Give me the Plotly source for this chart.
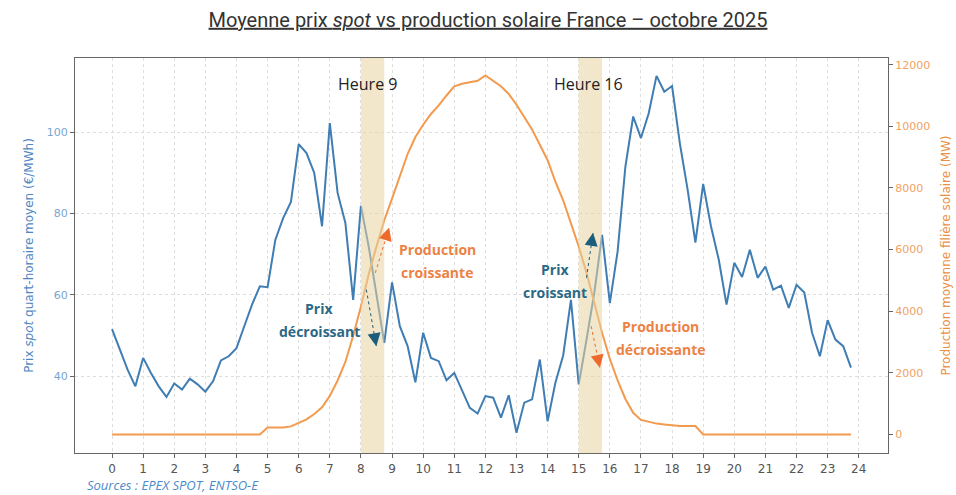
import plotly.graph_objects as go

# ---------------- data ----------------
hours = [i / 4 for i in range(96)]          # quarter-hours 0 .. 23.75
x_ticks = list(range(25))

price = [51.6, 46.6, 41.6, 37.5, 44.5, 40.8, 37.5, 34.9,
         38.2, 36.7, 39.4, 38.0, 36.2, 38.8, 43.9, 44.9,
         46.9, 52.3, 57.6, 62.1, 61.9, 73.6, 78.9, 82.9,
         97.1, 94.9, 90.0, 76.9, 102.3, 85.1, 77.7, 58.8,
         81.9, 71.9, 60.5, 48.2, 63.1, 52.3, 47.4, 38.5,
         50.7, 44.5, 43.7, 39.0, 40.8, 36.3, 32.2, 30.8,
         35.1, 34.7, 29.8, 35.3, 26.1, 33.5, 34.3, 44.1,
         28.9, 38.4, 45.1, 58.8, 38.0, 49.0, 60.5, 74.8,
         58.0, 70.7, 91.6, 103.9, 98.6, 104.7, 113.9, 110.0,
         111.4, 97.3, 85.9, 72.9, 87.3, 76.9, 68.7, 57.6,
         67.9, 64.4, 71.1, 64.2, 67.0, 61.3, 62.3, 56.8,
         62.5, 60.6, 50.7, 44.9, 53.8, 49.0, 47.4, 42.1]

solar = [0] * 20 + [
    220, 220, 220, 260,
    370, 490, 660, 880,
    1250, 1750, 2350, 3200,
    4150, 5200, 6100, 6950,
    7650, 8400, 9100, 9650,
    10050, 10400, 10680, 11000,
    11300, 11380, 11420, 11480,
    11650, 11480, 11300, 11050,
    10700, 10300, 9900, 9400,
    8900, 8200, 7600, 6850,
    6100, 5250, 4250, 3300,
    2450, 1750, 1150, 700,
    470, 400, 350, 320,
    290, 270, 270, 270] + [0] * 20

price_ticks = [40, 60, 80, 100]
solar_ticks = [0, 2000, 4000, 6000, 8000, 10000, 12000]
solar_tick_text = ["0", "2000", "4000", "6000", "8000", "10000", "12000"]

band_start = [8, 15]
band_end = [8.75, 15.75]
band_label = ["Heure 9", "Heure 16"]
band_label_x = [8.215, 15.32]

# annotation texts (one entry per line) : text, hour, price-axis value, kind
note_text = ["Production", "croissante", "Prix", "décroissant",
             "Prix", "croissant", "Production", "décroissante"]
note_x = [10.45, 10.45, 6.662, 6.662, 14.25, 14.25, 17.63, 17.63]
note_y = [71.16, 65.58, 56.65, 51.0, 66.24, 60.66, 52.15, 46.57]
note_kind = ["prod", "prod", "prix", "prix", "prix", "prix", "prod", "prod"]

# trend arrows : tail (hour, price) -> head (hour, price)
arrow_tail_x = [8.463, 8.174, 15.25, 15.40]
arrow_tail_y = [65.43, 61.3, 64.2, 52.3]
arrow_head_x = [8.907, 8.495, 15.46, 15.68]
arrow_head_y = [76.57, 47.38, 75.27, 42.07]
arrow_kind = ["prod", "prix", "prix", "prod"]

# ---------------- style ----------------
BLUE = "#3f7db3"
ORANGE = "#f29a4e"
TXT_PROD = "#ec8245"
TXT_PRIX = "#2b6886"
HEAD_PROD = "#ee6a2c"
HEAD_PRIX = "#1b5d7b"
ANN_FONT = "Open Sans, Lato, sans-serif"

fig = go.Figure()
fig.add_trace(go.Scatter(x=hours, y=price, mode="lines",
                         line=dict(color=BLUE, width=2), yaxis="y",
                         showlegend=False, hoverinfo="skip"))
fig.add_trace(go.Scatter(x=hours, y=solar, mode="lines",
                         line=dict(color=ORANGE, width=2), yaxis="y2",
                         showlegend=False, hoverinfo="skip"))

shapes = []
for s, e in zip(band_start, band_end):
    shapes.append(dict(type="rect", xref="x", yref="paper", x0=s, x1=e,
                       y0=0, y1=1, fillcolor="rgba(232,212,160,0.55)",
                       line=dict(width=0), layer="above"))

# dashed arrow bodies
for tx, ty, hx, hy, k in zip(arrow_tail_x, arrow_tail_y, arrow_head_x,
                             arrow_head_y, arrow_kind):
    col = HEAD_PROD if k == "prod" else HEAD_PRIX
    shapes.append(dict(type="line", xref="x", yref="y", x0=tx, y0=ty,
                       x1=hx, y1=hy, line=dict(color=col, width=1, dash="dot"),
                       layer="above"))

annotations = []
for lbl, lx in zip(band_label, band_label_x):
    annotations.append(dict(text=lbl, x=lx, y=112.0, xref="x", yref="y",
                            showarrow=False, xanchor="center", yanchor="middle",
                            font=dict(family=ANN_FONT, size=16, color="#222222")))

for t, nx, ny, k in zip(note_text, note_x, note_y, note_kind):
    annotations.append(dict(text="<b>" + t + "</b>", x=nx, y=ny, xref="x",
                            yref="y", showarrow=False, xanchor="center",
                            yanchor="middle",
                            font=dict(family=ANN_FONT, size=14,
                                      color=TXT_PROD if k == "prod" else TXT_PRIX)))

# arrow heads only: a very short arrow at the end of each dashed body
for tx, ty, hx, hy, k in zip(arrow_tail_x, arrow_tail_y, arrow_head_x,
                             arrow_head_y, arrow_kind):
    col = HEAD_PROD if k == "prod" else HEAD_PRIX
    annotations.append(dict(text="", x=hx, y=hy, xref="x", yref="y",
                            ax=hx + 0.15 * (tx - hx), ay=hy + 0.15 * (ty - hy),
                            axref="x", ayref="y",
                            showarrow=True, arrowhead=2, arrowsize=2.6,
                            arrowwidth=1, arrowcolor=col,
                            standoff=0, startstandoff=0))

annotations.append(dict(text="<i>Sources : EPEX SPOT, ENTSO-E</i>",
                        x=0.012, y=-0.082, xref="paper", yref="paper",
                        showarrow=False, xanchor="left", yanchor="middle",
                        font=dict(family=ANN_FONT, size=13, color="#4b8bcb")))

fig.update_layout(
    width=956, height=495,
    margin=dict(l=75, r=68, t=58, b=42, autoexpand=False),
    paper_bgcolor="white", plot_bgcolor="white",
    font=dict(family="DejaVu Sans, sans-serif", color="#555555"),
    title=dict(text="<u>Moyenne prix <i>spot</i> vs production solaire France – octobre 2025</u>",
               x=0.508, xref="paper", xanchor="center",
               y=0.96, yref="container", yanchor="middle",
               font=dict(family="Roboto, sans-serif",
                         size=20, color="#333333")),
    xaxis=dict(range=[-1.19, 24.94], tickmode="array", tickvals=x_ticks,
               showgrid=True, gridcolor="#dedede", griddash="dot", gridwidth=1,
               showline=True, mirror=True, linecolor="#666666", linewidth=1.2,
               ticks="outside", ticklen=4, tickcolor="#666666",
               tickfont=dict(size=12, color="#555555"), zeroline=False),
    yaxis=dict(range=[21.1, 118.3], tickmode="array", tickvals=price_ticks,
               showgrid=True, gridcolor="#dedede", griddash="dot", gridwidth=1,
               showline=True, mirror=True, linecolor="#666666", linewidth=1.2,
               ticks="outside", ticklen=4, tickcolor="#666666",
               tickfont=dict(size=11, color="#78a6d2"), zeroline=False,
               title=dict(text="Prix <i>spot</i> quart-horaire moyen (€/MWh)",
                          font=dict(size=12, color="#4f86bf"), standoff=10)),
    yaxis2=dict(range=[-604, 12217], tickmode="array", tickvals=solar_ticks,
                ticktext=solar_tick_text,
                overlaying="y", side="right", showgrid=False,
                showline=True, linecolor="#666666", linewidth=1.2,
                ticks="outside", ticklen=4, tickcolor="#666666",
                tickfont=dict(size=11, color="#f0a263"), zeroline=False,
                title=dict(text="Production moyenne filière solaire (MW)",
                           font=dict(size=12, color="#e98f45"), standoff=12)),
    shapes=shapes,
    annotations=annotations,
)

fig.write_html("out.html",
               config={"displayModeBar": False},
               post_script="document.body.style.margin='0px';"
                           "document.body.style.overflow='hidden';")
